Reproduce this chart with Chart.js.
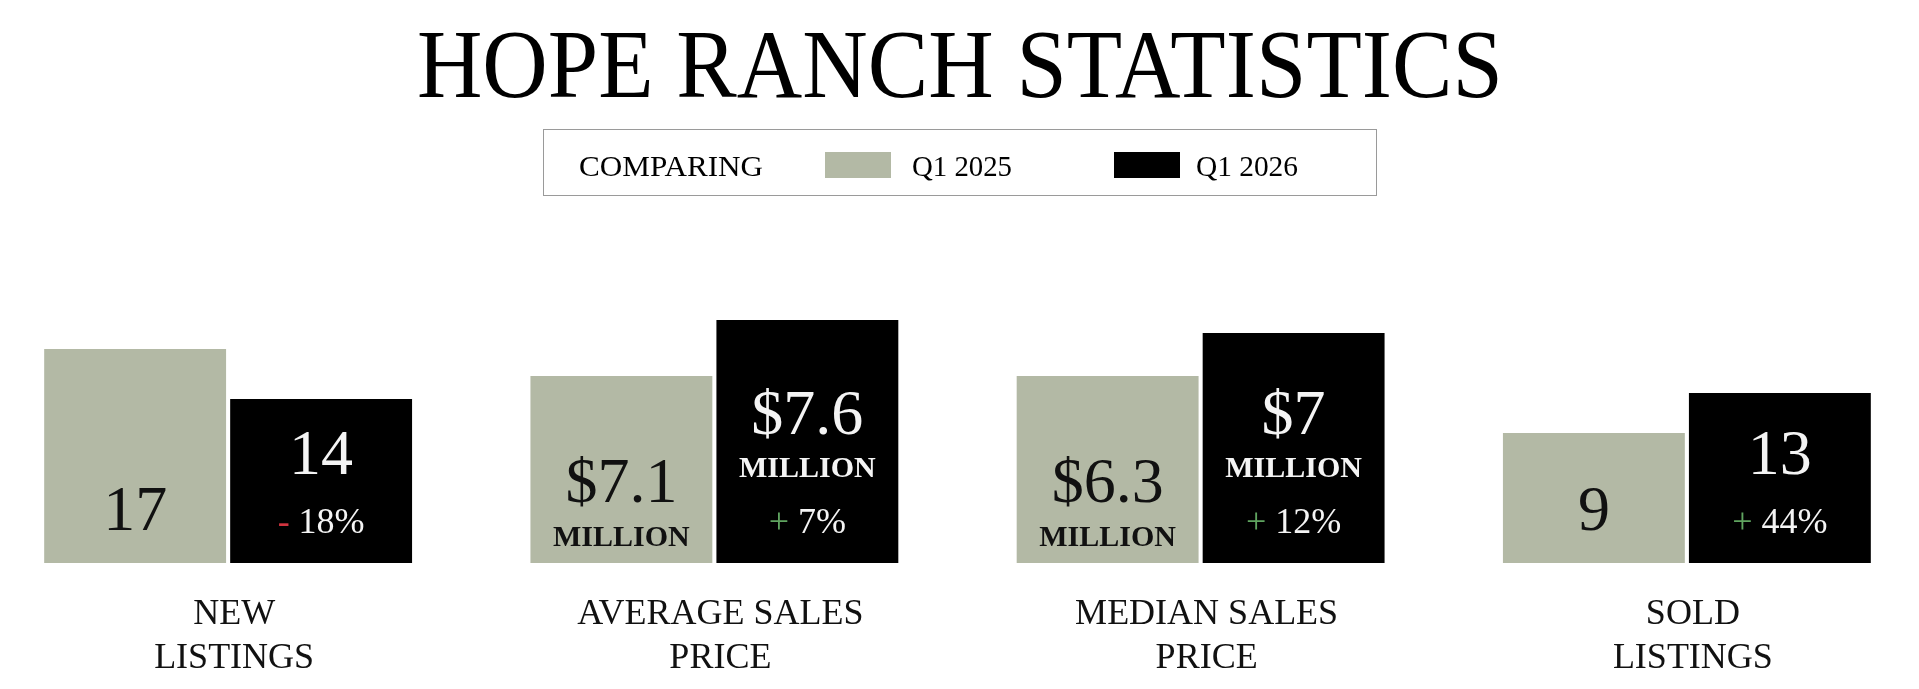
<!DOCTYPE html>
<html>
<head>
<meta charset="utf-8">
<title>Hope Ranch Statistics</title>
<script src="https://cdn.jsdelivr.net/npm/chart.js@4.4.1/dist/chart.umd.min.js"></script>
<style>
  html, body {
    margin: 0;
    padding: 0;
    width: 1919px;
    height: 689px;
    overflow: hidden;
    background: #ffffff;
    font-family: "Liberation Serif", serif;
  }
  #statsChart {
    position: absolute;
    left: -15px;
    top: 0;
  }
  .title {
    position: absolute;
    left: 0;
    top: 15px;
    width: 1919px;
    text-align: center;
    font-size: 98px;
    line-height: 1;
    color: #000;
    z-index: 2;
  }
  .title span {
    display: inline-block;
    transform-origin: center;
  }
  .legend-box {
    position: absolute;
    left: 543px;
    top: 129px;
    width: 834px;
    height: 67px;
    box-sizing: border-box;
    border: 1.5px solid #9a9a9a;
    z-index: 2;
  }
  .legend-text {
    position: absolute;
    font-size: 30px;
    line-height: 1;
    color: #000;
    white-space: nowrap;
    transform-origin: left center;
    z-index: 3;
  }
  .swatch {
    position: absolute;
    width: 66px;
    height: 26px;
    z-index: 3;
  }
</style>
</head>
<body>
<div class="title"><span id="title">HOPE RANCH STATISTICS</span></div>
<div class="legend-box"></div>
<div class="legend-text" id="lgCompare" style="left:579px; top:151px;">COMPARING</div>
<div class="swatch" id="sw0" style="left:825px; top:152px;"></div>
<div class="legend-text" id="lg0" style="left:912px; top:151px;"></div>
<div class="swatch" id="sw1" style="left:1114px; top:152px;"></div>
<div class="legend-text" id="lg1" style="left:1196px; top:151px;"></div>

<canvas id="statsChart" width="1945" height="689" style="width:1945px;height:689px;"></canvas>

<script>
// ---- dados ----
const categories = [
    ['NEW', 'LISTINGS'],
    ['AVERAGE SALES', 'PRICE'],
    ['MEDIAN SALES', 'PRICE'],
    ['SOLD', 'LISTINGS']
];
const seriesNames = ['Q1 2025', 'Q1 2026'];
const seriesColors = ['#b3b9a5', '#000000'];

// valores exibidos dentro das barras
const value2025 = ['17', '$7.1', '$6.3', '9'];
const unit2025 = ['', 'MILLION', 'MILLION', ''];
const value2026 = ['14', '$7.6', '$7', '13'];
const unit2026 = ['', 'MILLION', 'MILLION', ''];
const change = ['- 18%', '+ 7%', '+ 12%', '+ 44%'];

// altura relativa das barras como desenhadas (maior = 100), não é escala dos dados
const level2025 = [88.1, 77.0, 77.0, 53.5];
const level2026 = [67.5, 100, 94.7, 70.0];

const SERIF = '"Liberation Serif", "Times New Roman", serif';

// legenda em HTML
document.getElementById('lg0').textContent = seriesNames[0];
document.getElementById('lg1').textContent = seriesNames[1];
document.getElementById('sw0').style.background = seriesColors[0];
document.getElementById('sw1').style.background = seriesColors[1];

// ajusta largura do texto (fonte do original é mais condensada)
function fitWidth(id, target) {
    const el = document.getElementById(id);
    const w = el.getBoundingClientRect().width;
    if (w > 0) el.style.transform = 'scaleX(' + (target / w) + ')';
}
fitWidth('title', 1086);
fitWidth('lgCompare', 184);
fitWidth('lg0', 100);
fitWidth('lg1', 102);

// textos dentro das barras
const barText = {
    id: 'barText',
    afterDatasetsDraw(chart) {
        const ctx = chart.ctx;
        const numFont = '64px ' + SERIF;
        const unitFont = 'bold 30px ' + SERIF;
        const changeFont = '36px ' + SERIF;
        ctx.save();
        ctx.textBaseline = 'alphabetic';

        // Q1 2025
        chart.getDatasetMeta(0).data.forEach((bar, i) => {
            const base = bar.base;
            ctx.textAlign = 'center';
            ctx.fillStyle = '#111111';
            if (unit2025[i]) {
                ctx.font = numFont;
                ctx.fillText(value2025[i], bar.x, base - 61);
                ctx.font = unitFont;
                ctx.fillText(unit2025[i], bar.x, base - 17);
            } else {
                ctx.font = numFont;
                ctx.fillText(value2025[i], bar.x, base - 33);
            }
        });

        // Q1 2026
        chart.getDatasetMeta(1).data.forEach((bar, i) => {
            const base = bar.base;
            ctx.textAlign = 'center';
            ctx.fillStyle = '#f4f4f4';
            if (unit2026[i]) {
                ctx.font = numFont;
                ctx.fillText(value2026[i], bar.x, base - 129);
                ctx.font = unitFont;
                ctx.fillText(unit2026[i], bar.x, base - 86);
            } else {
                ctx.font = numFont;
                ctx.fillText(value2026[i], bar.x, base - 89);
            }

            // variação: sinal colorido + percentual
            const sign = change[i].charAt(0);
            const rest = change[i].slice(1);
            ctx.font = changeFont;
            const wSign = ctx.measureText(sign).width;
            const wRest = ctx.measureText(rest).width;
            let x = bar.x - (wSign + wRest) / 2;
            ctx.textAlign = 'left';
            ctx.fillStyle = sign === '-' ? '#d1343f' : '#5fa45f';
            ctx.fillText(sign, x, base - 30);
            ctx.fillStyle = '#f4f4f4';
            ctx.fillText(rest, x + wSign, base - 30);
        });
        ctx.restore();
    }
};

const chart = new Chart(document.getElementById('statsChart'), {
    type: 'bar',
    data: {
        labels: categories,
        datasets: [
            {
                label: seriesNames[0],
                data: level2025,
                backgroundColor: seriesColors[0],
                borderWidth: 0,
                categoryPercentage: 0.765,
                barPercentage: 0.978
            },
            {
                label: seriesNames[1],
                data: level2026,
                backgroundColor: seriesColors[1],
                borderWidth: 0,
                categoryPercentage: 0.765,
                barPercentage: 0.978
            }
        ]
    },
    options: {
        responsive: false,
        animation: false,
        layout: {
            padding: { top: 320, bottom: 0, left: 0, right: 0 }
        },
        plugins: {
            legend: { display: false },
            tooltip: { enabled: false },
            title: { display: false }
        },
        scales: {
            y: {
                display: false,
                min: 0,
                max: 100
            },
            x: {
                grid: { display: false, drawTicks: false },
                border: { display: false },
                ticks: {
                    color: '#111111',
                    padding: 29,
                    labelOffset: 6,
                    font: {
                        family: SERIF,
                        size: 36,
                        lineHeight: 1.236
                    }
                },
                afterFit(scale) {
                    scale.height = 126;
                }
            }
        }
    },
    plugins: [barText]
});
</script>
</body>
</html>
